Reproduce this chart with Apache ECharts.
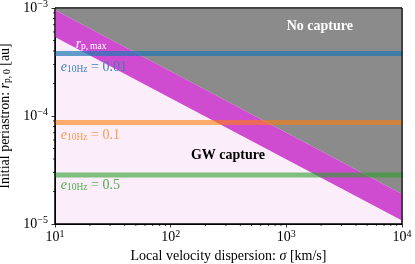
<!DOCTYPE html>
<html><head><meta charset="utf-8">
<script src="https://cdn.jsdelivr.net/npm/echarts@6/dist/echarts.min.js"></script>
<style>html,body{margin:0;padding:0;background:#fff}#c{width:415px;height:264px}</style>
</head><body><div id="c"></div>
<script>
// ---- data ----
const sigmaRange = [10, 10000];          // km/s, x extent
const rpRange = [1e-5, 1e-3];            // au, y extent
const bandSigma = [10, 10000];           // endpoints of r_p,max band
const bandUpper = [9.6e-4, 1.9e-5];      // upper edge of band
const bandLower = [5.4e-4, 1.08e-5];     // lower edge of band
const eccValues = ['0.01', '0.1', '0.5'];
const eccRp = [3.8e-4, 8.7e-5, 2.85e-5];
const eccLabelRp = [2.83e-4, 6.6e-5, 2.28e-5];
const eccLabelSigma = 11.2;
const regionLabels = ['No capture', 'GW capture'];
const regionLabelPos = [[1950, 6.7e-4], [313, 4.35e-5]];
const rpMaxLabelPos = [20.5, 4.6e-4];

const FONT = '"Liberation Serif","DejaVu Serif",serif';
const lineColors = ['rgba(31,119,180,0.7)', 'rgba(255,127,14,0.6)', 'rgba(44,160,44,0.6)'];
const textColors = ['#3f7fb5', '#fb9a4f', '#4caf4c'];

const chart = echarts.init(document.getElementById('c'), null, {renderer: 'canvas'});

function sup(v) {
  const e = Math.round(Math.log10(v));
  return '10{s|' + (e < 0 ? '\u2212' + (-e) : e) + '}';
}
const tickRich = {s: {fontSize: 10, fontFamily: FONT, color: '#000', verticalAlign: 'top', padding: [0, 0, 7, 0]}};

// minor ticks (2..9 x 10^k)
function minors(lo, hi) {
  const out = [];
  for (let k = Math.floor(Math.log10(lo)); k < Math.ceil(Math.log10(hi)); k++) {
    for (let m = 2; m <= 9; m++) { const v = m * Math.pow(10, k); if (v > lo && v < hi) out.push(v); }
  }
  return out;
}
const xMinor = minors(sigmaRange[0], sigmaRange[1]);
const yMinor = minors(rpRange[0], rpRange[1]);

const series = [];
// regions
series.push({
  type: 'custom', z: 1, silent: true, clip: true,
  data: [0],
  renderItem: function (params, api) {
    const tl = api.coord([sigmaRange[0], rpRange[1]]);
    const tr = api.coord([sigmaRange[1], rpRange[1]]);
    const u0 = api.coord([bandSigma[0], bandUpper[0]]);
    const u1 = api.coord([bandSigma[1], bandUpper[1]]);
    const l0 = api.coord([bandSigma[0], bandLower[0]]);
    const l1 = api.coord([bandSigma[1], bandLower[1]]);
    return {type: 'group', children: [
      {type: 'polygon', shape: {points: [tl, tr, u1, u0]}, style: {fill: '#8b8b8b'}},
      {type: 'polygon', shape: {points: [u0, u1, l1, l0]}, style: {fill: '#cf4bd0'}}
    ]};
  }
});
// horizontal eccentricity lines
eccRp.forEach(function (v, i) {
  series.push({
    type: 'line', z: 3, silent: true, symbol: 'none',
    data: [[sigmaRange[0], v], [sigmaRange[1], v]],
    lineStyle: {color: lineColors[i], width: 5}
  });
});
// texts + minor ticks + frame
series.push({
  type: 'custom', z: 5, silent: true, clip: false,
  data: [0],
  renderItem: function (params, api) {
    const ch = [];
    const o = api.coord([sigmaRange[0], rpRange[0]]);
    const c2 = api.coord([sigmaRange[1], rpRange[1]]);
    xMinor.forEach(function (v) {
      const p = api.coord([v, rpRange[0]]);
      ch.push({type: 'line', shape: {x1: p[0], y1: o[1], x2: p[0], y2: o[1] + 2}, style: {stroke: '#000', lineWidth: 0.8}});
    });
    yMinor.forEach(function (v) {
      const p = api.coord([sigmaRange[0], v]);
      ch.push({type: 'line', shape: {x1: o[0], y1: p[1], x2: o[0] - 2, y2: p[1]}, style: {stroke: '#000', lineWidth: 0.8}});
    });
    eccValues.forEach(function (ev, i) {
      const p = api.coord([eccLabelSigma, eccLabelRp[i]]);
      const c = textColors[i];
      ch.push({type: 'text', x: p[0], y: p[1], style: {
        text: '{i|e}{s|10Hz}{n| = ' + ev + '}',
        verticalAlign: 'middle', align: 'left', fill: c,
        rich: {
          i: {fontFamily: FONT, fontStyle: 'italic', fontSize: 14, fill: c},
          s: {fontFamily: FONT, fontSize: 9.5, fill: c, verticalAlign: 'bottom', padding: [5, 0, 0, 0]},
          n: {fontFamily: FONT, fontSize: 14, fill: c}
        }
      }});
    });
    const rp = api.coord(rpMaxLabelPos);
    ch.push({type: 'text', x: rp[0], y: rp[1], style: {
      text: '{i|r}{s|p,\u2009max}', align: 'center', verticalAlign: 'middle', fill: '#fff',
      rich: {
        i: {fontFamily: FONT, fontStyle: 'italic', fontSize: 14, fill: '#fff'},
        s: {fontFamily: FONT, fontSize: 9.5, fill: '#fff', verticalAlign: 'bottom', padding: [5, 0, 0, 0]}
      }
    }});
    regionLabels.forEach(function (t, i) {
      const p = api.coord(regionLabelPos[i]);
      ch.push({type: 'text', x: p[0], y: p[1], style: {
        text: t, align: 'center', verticalAlign: 'middle',
        font: 'bold 14px ' + FONT, fill: i === 0 ? '#fff' : '#000'
      }});
    });
    ch.push({type: 'rect', shape: {x: o[0], y: c2[1], width: c2[0] - o[0], height: o[1] - c2[1]},
      style: {fill: 'none', stroke: '#000', lineWidth: 1}});
    return {type: 'group', children: ch};
  }
});

chart.setOption({
  animation: false,
  backgroundColor: '#fff',
  grid: {left: 55, right: 13, top: 8, bottom: 40, show: true, backgroundColor: '#fbeefa', borderColor: '#000', borderWidth: 1,
    containLabel: false, outerBoundsMode: 'none'},
  xAxis: {
    type: 'log', logBase: 10, min: sigmaRange[0], max: sigmaRange[1], interval: 1,
    name: 'Local velocity dispersion: {i|\u03c3} [km/s]', nameLocation: 'middle', nameGap: 24,
    nameTextStyle: {fontFamily: FONT, fontSize: 14, color: '#000', rich: {i: {fontFamily: FONT, fontStyle: 'italic', fontSize: 14, color: '#000'}}},
    axisLine: {show: true, lineStyle: {color: '#000', width: 1}},
    axisTick: {show: true, inside: false, length: 3.5, lineStyle: {color: '#000', width: 0.8}},
    minorTick: {show: false}, splitLine: {show: false},
    axisLabel: {fontFamily: FONT, fontSize: 14, color: '#000', margin: 5, formatter: sup, rich: tickRich}
  },
  yAxis: {
    type: 'log', logBase: 10, min: rpRange[0], max: rpRange[1], interval: 1,
    name: 'Initial periastron: {i|r}{s|p,\u20090} [au]', nameLocation: 'middle', nameGap: 40,
    nameTextStyle: {fontFamily: FONT, fontSize: 14, color: '#000', rich: {
      i: {fontFamily: FONT, fontStyle: 'italic', fontSize: 14, color: '#000'},
      s: {fontFamily: FONT, fontSize: 9.5, color: '#000', verticalAlign: 'bottom', padding: [5, 0, 0, 0]}
    }},
    axisLine: {show: true, lineStyle: {color: '#000', width: 1}},
    axisTick: {show: true, inside: false, length: 3.5, lineStyle: {color: '#000', width: 0.8}},
    minorTick: {show: false}, splitLine: {show: false},
    axisLabel: {fontFamily: FONT, fontSize: 14, color: '#000', margin: 7, formatter: sup, rich: tickRich}
  },
  series: series
});
</script>
</body></html>
